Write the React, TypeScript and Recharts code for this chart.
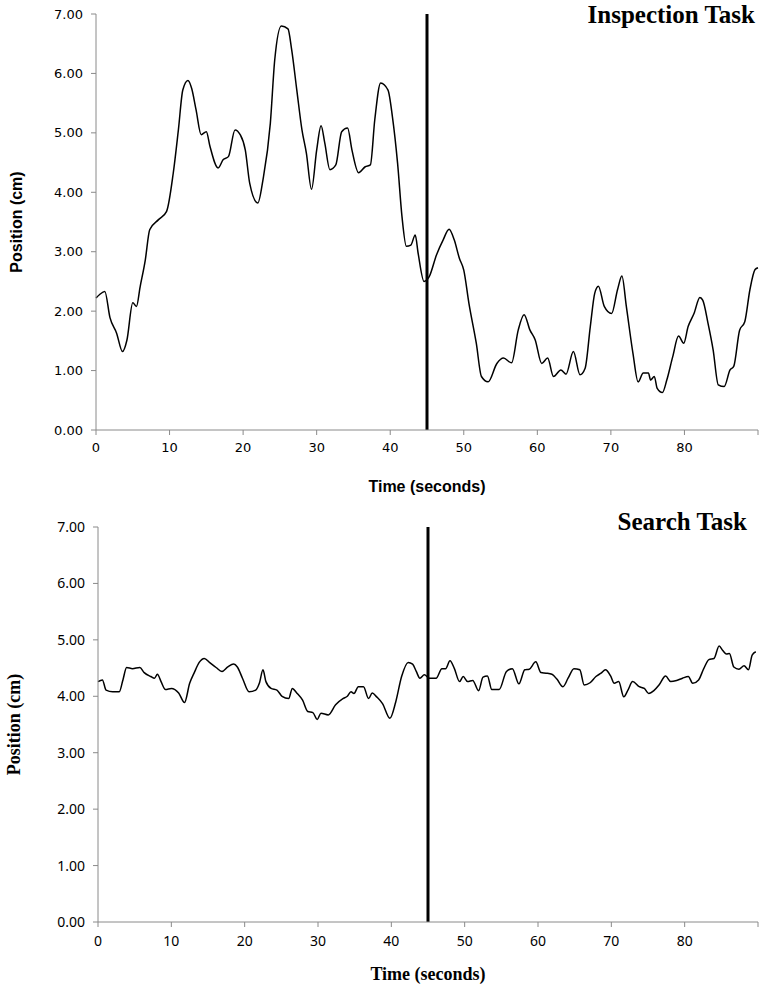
import React from 'react';
import { LineChart, Line, XAxis, YAxis, ReferenceLine, Label } from 'recharts';

// Inspection task: time (s) and position (cm)
const inspectionTimes = [
  0, 0.5, 1.2, 1.9, 2.8, 3.6, 4.2, 5.0, 5.5, 6.0, 6.7, 7.3, 8.5, 9.6, 10.5, 11.2, 11.8, 12.5, 13.0, 13.6,
  14.3, 15.0, 15.5, 16.6, 17.3, 18.0, 18.9, 19.6, 20.3, 20.9, 22.0, 22.7, 23.7, 24.3, 25.2, 26.1, 26.6, 27.3, 28.0, 28.6,
  29.3, 30.0, 30.6, 31.1, 31.8, 32.6, 33.4, 34.2, 34.8, 35.7, 36.6, 37.3, 37.9, 38.7, 39.7, 40.3, 41.0, 41.6, 42.2, 42.8,
  43.4, 43.8, 44.6, 45.3, 46.3, 47.2, 48.0, 48.7, 49.4, 50.0, 50.7, 51.7, 52.4, 53.3, 54.5, 55.4, 56.5, 57.4, 58.2, 59.0,
  59.7, 60.6, 61.4, 62.2, 63.2, 63.9, 64.9, 65.8, 66.5, 67.2, 67.8, 68.3, 69.1, 70.1, 70.9, 71.5, 72.1, 73.0, 73.7, 74.4,
  75.1, 75.4, 75.9, 76.3, 77.0, 77.6, 78.4, 79.2, 79.9, 80.5, 81.3, 82.1, 82.5, 83.2, 83.9, 84.6, 85.4, 86.2, 86.7, 87.5,
  88.2, 88.9, 89.6, 90.0,
];
const inspectionValues = [
  2.22, 2.28, 2.33, 1.89, 1.63, 1.32, 1.51, 2.14, 2.08, 2.41, 2.86, 3.37, 3.54, 3.68, 4.32, 5.05, 5.72, 5.88, 5.75, 5.39,
  4.97, 5.02, 4.77, 4.41, 4.55, 4.6, 5.05, 4.97, 4.71, 4.15, 3.82, 4.21, 5.16, 6.23, 6.8, 6.75, 6.4, 5.72, 5.05, 4.66,
  4.05, 4.71, 5.12, 4.83, 4.38, 4.46, 5.02, 5.08, 4.71, 4.33, 4.43, 4.46, 5.22, 5.84, 5.72, 5.27, 4.49, 3.59, 3.09, 3.11,
  3.28, 2.97, 2.5, 2.58, 2.95, 3.2, 3.38, 3.2, 2.89, 2.69, 2.13, 1.46, 0.9, 0.81, 1.12, 1.21, 1.13, 1.68, 1.94, 1.68,
  1.52, 1.12, 1.21, 0.9, 1.01, 0.94, 1.32, 0.93, 1.04, 1.74, 2.3, 2.42, 2.08, 1.96, 2.36, 2.59, 2.08, 1.29, 0.81, 0.96,
  0.96, 0.84, 0.9, 0.7, 0.63, 0.84, 1.23, 1.58, 1.46, 1.74, 1.96, 2.23, 2.18, 1.8, 1.35, 0.76, 0.73, 1.01, 1.07, 1.68,
  1.82, 2.36, 2.7, 2.73,
];

// Search task: time (s) and position (cm)
const searchTimes = [
  0, 0.6, 1.1, 2.0, 2.9, 3.4, 3.9, 4.7, 5.7, 6.3, 7.2, 7.7, 8.1, 8.6, 9.2, 10.0, 11.0, 11.8, 12.5, 13.1,
  13.8, 14.5, 15.2, 16.1, 16.9, 17.7, 18.5, 19.0, 19.7, 20.6, 21.5, 22.0, 22.5, 22.9, 23.6, 24.4, 25.1, 26.0, 26.5, 27.1,
  27.9, 28.6, 29.3, 29.9, 30.4, 31.4, 32.4, 33.4, 34.0, 34.5, 34.9, 35.5, 36.2, 36.9, 37.4, 38.0, 38.8, 39.8, 40.6, 41.4,
  42.3, 42.9, 43.4, 43.9, 44.5, 45.2, 46.1, 46.9, 47.4, 48.0, 48.6, 49.3, 49.8, 50.4, 51.1, 51.9, 52.5, 53.1, 53.7, 54.7,
  55.7, 56.5, 57.4, 58.2, 58.8, 59.7, 60.4, 61.1, 61.9, 62.6, 63.4, 64.1, 64.9, 65.7, 66.3, 67.1, 67.9, 68.6, 69.2, 69.9,
  70.4, 71.0, 71.7, 72.3, 72.9, 73.8, 74.5, 75.1, 75.8, 76.5, 77.4, 78.1, 78.9, 79.7, 80.5, 81.1, 81.9, 82.6, 83.3, 84.0,
  84.7, 85.2, 85.7, 86.1, 86.7, 87.4, 88.1, 88.7, 89.2, 89.7,
];
const searchValues = [
  4.26, 4.29, 4.11, 4.08, 4.08, 4.29, 4.51, 4.49, 4.51, 4.42, 4.35, 4.32, 4.39, 4.26, 4.12, 4.14, 4.06, 3.89, 4.23, 4.41,
  4.6, 4.67, 4.6, 4.51, 4.44, 4.52, 4.57, 4.52, 4.32, 4.08, 4.11, 4.23, 4.47, 4.26, 4.14, 4.11, 4.0, 3.96, 4.14, 4.06,
  3.93, 3.73, 3.71, 3.59, 3.7, 3.67, 3.85, 3.96, 4.0, 4.08, 4.05, 4.17, 4.17, 3.96, 4.06, 3.99, 3.87, 3.61, 3.9, 4.35,
  4.6, 4.57, 4.44, 4.32, 4.38, 4.32, 4.32, 4.49, 4.49, 4.63, 4.49, 4.26, 4.35, 4.26, 4.28, 4.1, 4.34, 4.36, 4.12, 4.12,
  4.44, 4.49, 4.22, 4.47, 4.48, 4.61, 4.42, 4.41, 4.39, 4.3, 4.17, 4.32, 4.49, 4.47, 4.2, 4.24, 4.35, 4.41, 4.47, 4.36,
  4.23, 4.26, 3.99, 4.12, 4.26, 4.17, 4.14, 4.05, 4.1, 4.2, 4.36, 4.26, 4.28, 4.32, 4.35, 4.23, 4.29, 4.49, 4.65, 4.67,
  4.89, 4.81, 4.75, 4.76, 4.52, 4.48, 4.54, 4.47, 4.73, 4.79,
];

const xTicks = [0, 10, 20, 30, 40, 50, 60, 70, 80, 90];
const yTicks = [0, 1, 2, 3, 4, 5, 6, 7];
const markerTime = 45;
const titles = ['Inspection Task', 'Search Task'];
const xLabel = 'Time (seconds)';
const yLabel = 'Position (cm)';

const inspectionData = inspectionTimes.map((t, i) => ({ t, v: inspectionValues[i] }));
const searchData = searchTimes.map((t, i) => ({ t, v: searchValues[i] }));

const axisColor = '#8a8a8a';
const fmtX = (v: number) => (v === 90 ? '' : String(v));
const fmtY = (v: number) => v.toFixed(2);

export default function App() {
  return (
    <div style={{ position: 'absolute', left: 0, top: 0, width: 761, height: 985, background: '#fff' }}>
      <div style={{ position: 'absolute', left: 0, top: 0 }}>
        <LineChart width={761} height={500} data={inspectionData} margin={{ top: 14, right: 3, bottom: 0, left: 0 }}>
          <XAxis
            dataKey="t"
            type="number"
            domain={[0, 90]}
            ticks={xTicks}
            tickFormatter={fmtX}
            height={70}
            stroke={axisColor}
            tickSize={5}
            tickMargin={8}
            tick={{ fill: '#000', fontFamily: 'DejaVu Sans', fontSize: 13 }}
          >
            <Label value={xLabel} position="insideBottom" offset={8}
              style={{ fontFamily: 'Liberation Sans', fontWeight: 'bold', fontSize: 16, fill: '#000' }} />
          </XAxis>
          <YAxis
            type="number"
            domain={[0, 7]}
            ticks={yTicks}
            tickFormatter={fmtY}
            width={96}
            stroke={axisColor}
            tickSize={5}
            tickMargin={8}
            tick={{ fill: '#000', fontFamily: 'DejaVu Sans', fontSize: 13 }}
          >
            <Label value={yLabel} angle={-90} position="insideLeft" offset={16}
              style={{ textAnchor: 'middle', fontFamily: 'Liberation Sans', fontWeight: 'bold', fontSize: 16, fill: '#000' }} />
          </YAxis>
          <ReferenceLine x={markerTime} stroke="#000" strokeWidth={3} />
          <Line type="monotone" dataKey="v" stroke="#000" strokeWidth={1.5} dot={false} isAnimationActive={false} />
        </LineChart>
      </div>
      <div style={{ position: 'absolute', left: 0, top: 510 }}>
        <LineChart width={761} height={480} data={searchData} margin={{ top: 17, right: 3, bottom: 0, left: 0 }}>
          <XAxis
            dataKey="t"
            type="number"
            domain={[0, 90]}
            ticks={xTicks}
            tickFormatter={fmtX}
            height={68}
            stroke={axisColor}
            tickSize={5}
            tickMargin={9}
            tick={{ fill: '#000', fontFamily: 'Noto Sans', fontSize: 14 }}
          >
            <Label value={xLabel} position="insideBottom" offset={10}
              style={{ fontFamily: 'Liberation Serif', fontWeight: 'bold', fontSize: 18, fill: '#000' }} />
          </XAxis>
          <YAxis
            type="number"
            domain={[0, 7]}
            ticks={yTicks}
            tickFormatter={fmtY}
            width={98}
            stroke={axisColor}
            tickSize={5}
            tickMargin={8}
            tick={{ fill: '#000', fontFamily: 'Noto Sans', fontSize: 14 }}
          >
            <Label value={yLabel} angle={-90} position="insideLeft" offset={14}
              style={{ textAnchor: 'middle', fontFamily: 'Liberation Serif', fontWeight: 'bold', fontSize: 18, fill: '#000' }} />
          </YAxis>
          <ReferenceLine x={markerTime} stroke="#000" strokeWidth={3} />
          <Line type="monotone" dataKey="v" stroke="#000" strokeWidth={1.5} dot={false} isAnimationActive={false} />
        </LineChart>
      </div>
      <svg width={761} height={985} style={{ position: 'absolute', left: 0, top: 0, pointerEvents: 'none' }}>
        <text x={755} y={23} textAnchor="end" fontFamily="Liberation Serif" fontWeight="bold" fontSize={25} fill="#000">
          {titles[0]}
        </text>
        <text x={747} y={530} textAnchor="end" fontFamily="Liberation Serif" fontWeight="bold" fontSize={25} fill="#000">
          {titles[1]}
        </text>
      </svg>
    </div>
  );
}
